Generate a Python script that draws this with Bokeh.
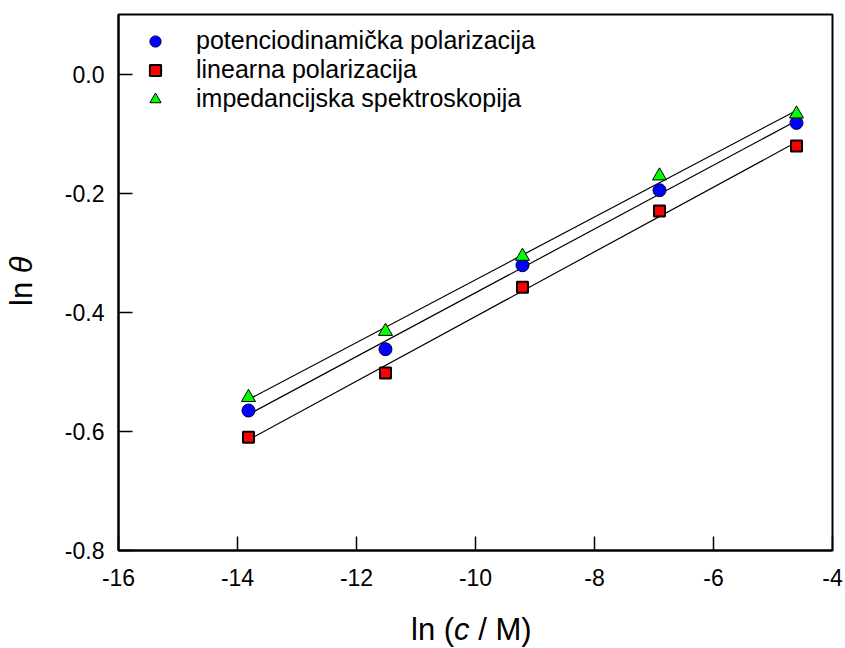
import numpy as np
from bokeh.plotting import figure
from bokeh.models import Range1d, FixedTicker, Legend, LegendItem, Div
from bokeh.layouts import column, row
from bokeh.embed import file_html
from bokeh.resources import INLINE

# ---- data ----
ln_c = [-13.8155, -11.5129, -9.2103, -6.9078, -4.6052]
pot = [-0.565, -0.462, -0.321, -0.195, -0.082]
lin = [-0.610, -0.502, -0.358, -0.230, -0.121]
imp = [-0.543, -0.432, -0.306, -0.171, -0.067]

series_names = ["potenciodinamička polarizacija", "linearna polarizacija",
                "impedancijska spektroskopija"]

x_ticks = [-16, -14, -12, -10, -8, -6, -4]
x_tick_labels = ["-16", "-14", "-12", "-10", "-8", "-6", "-4"]
y_ticks = [-0.8, -0.6, -0.4, -0.2, 0.0]
y_tick_labels = ["-0.8", "-0.6", "-0.4", "-0.2", "0.0"]

FONT = "Liberation Sans"

p = figure(width=805, height=600, output_backend="svg", toolbar_location=None,
           x_range=Range1d(-16, -4), y_range=Range1d(-0.8, 0.1),
           min_border_left=78, min_border_right=13, min_border_top=14,
           min_border_bottom=50)
p.background_fill_color = "white"
p.border_fill_color = "white"
p.grid.visible = False
p.outline_line_color = "black"
p.outline_line_width = 2

for ax in (p.xaxis[0], p.yaxis[0]):
    ax.axis_line_width = 2
    ax.axis_line_color = "black"
    ax.major_tick_in = 14
    ax.major_tick_out = 0
    ax.major_tick_line_width = 1.5
    ax.minor_tick_line_color = None
    ax.major_label_text_font = FONT
    ax.major_label_text_font_size = "23px"
    ax.major_label_text_color = "black"

p.xaxis.ticker = FixedTicker(ticks=x_ticks)
p.xaxis.major_label_overrides = dict(zip(x_ticks, x_tick_labels))
p.xaxis.major_label_standoff = 18
p.yaxis.ticker = FixedTicker(ticks=y_ticks)
p.yaxis.major_label_overrides = dict(zip(y_ticks, y_tick_labels))
p.yaxis.major_label_standoff = 14

# ---- fit lines (least squares from the data) ----
for ys in (pot, lin, imp):
    k, b = np.polyfit(ln_c, ys, 1)
    xs = [ln_c[0], ln_c[-1]]
    p.line(xs, [k * x + b for x in xs], line_color="black", line_width=1.2)

# ---- markers ----
r_pot = p.scatter(ln_c, pot, marker="circle", size=13, fill_color="#0000FF",
                  line_color="#000033", line_width=1)
r_lin = p.scatter(ln_c, lin, marker="square", size=11, fill_color="#FF0000",
                  line_color="black", line_width=2)
r_imp = p.scatter(ln_c, imp, marker="triangle", size=14, fill_color="#00FF00",
                  line_color="black", line_width=1)

legend = Legend(items=[LegendItem(label=series_names[0], renderers=[r_pot]),
                       LegendItem(label=series_names[1], renderers=[r_lin]),
                       LegendItem(label=series_names[2], renderers=[r_imp])],
                location=(22, 437), border_line_alpha=0, background_fill_alpha=0,
                padding=0, margin=0, spacing=0, glyph_width=30, glyph_height=28,
                label_height=28, label_standoff=26, label_text_font=FONT,
                label_text_font_size="25px", label_text_color="black")
p.add_layout(legend)

# ---- axis titles as HTML (upright text with italic symbol) ----
TXT = ("font-family:'Liberation Sans'; font-size:31px; line-height:36px; "
       "white-space:nowrap; color:black;")
ydiv = Div(width=40, height=600, margin=0,
           text=('<div style="position:relative; width:40px; height:600px;">'
                 '<div style="position:absolute; left:4px; top:306px; '
                 'transform:rotate(-90deg); transform-origin:0 0; ' + TXT + '">'
                 'ln <i>θ</i></div></div>'))
xdiv = Div(width=845, height=48, margin=0,
           text=('<div style="position:relative; width:845px; height:48px;">'
                 '<div style="position:absolute; left:411px; top:12px; ' + TXT + '">'
                 'ln (<i>c</i> / M)</div></div>'))

layout = column(row(ydiv, p, spacing=0), xdiv, spacing=0)

open("out.html", "w").write(file_html(layout, INLINE))
